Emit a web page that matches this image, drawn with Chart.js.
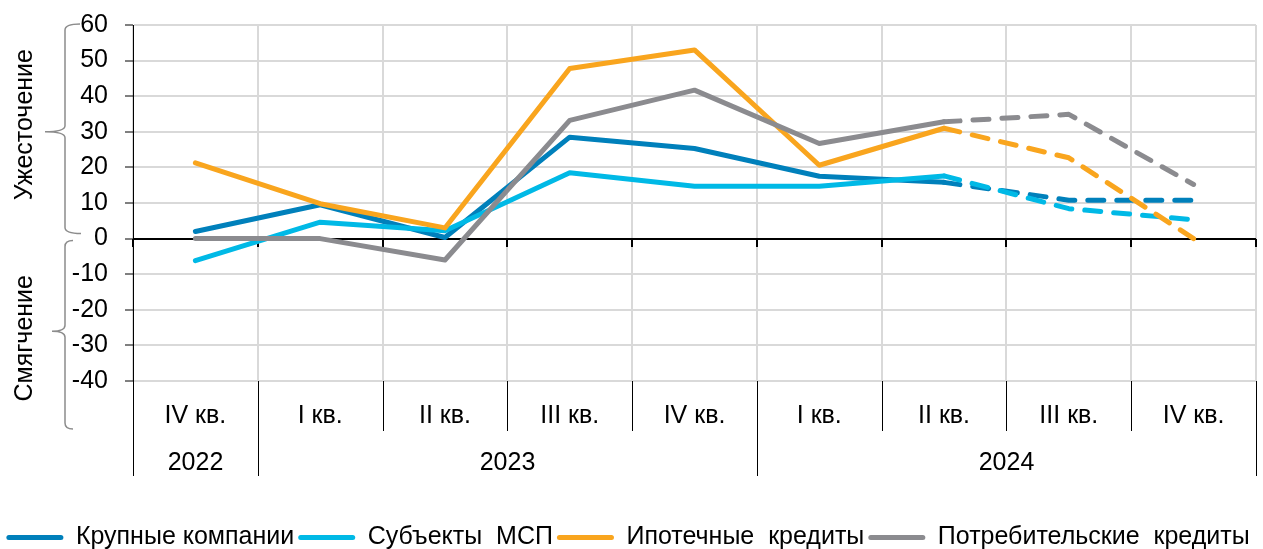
<!DOCTYPE html>
<html><head><meta charset="utf-8">
<script src="https://cdn.jsdelivr.net/npm/chart.js@4"></script>
<style>html,body{margin:0;padding:0;background:#fff;} #wrap{width:1263px;height:549px;position:relative;}</style>
</head><body><div id="wrap"><canvas id="c"></canvas></div>
<script>
// ---- data ----
const quarters = ['IV кв.','I кв.','II кв.','III кв.','IV кв.','I кв.','II кв.','III кв.','IV кв.'];
const years = ['2022','2023','2024'];
const yearSpans = [1, 4, 4];
const largeCompanies = [2, 9.5, 0.3, 28.5, 25.3, 17.5, 15.8, 10.8, 10.8];
const smeSubjects    = [-6.2, 4.6, 2.2, 18.5, 14.7, 14.7, 17.6, 8.4, 5.3];
const mortgageLoans  = [21.3, 9.8, 3.0, 47.8, 53.0, 20.6, 31.0, 22.7, 0];
const consumerLoans  = [0, 0, -6, 33.2, 41.7, 26.7, 32.8, 34.9, 15.2];
const seriesNames = ['Крупные компании', 'Субъекты  МСП', 'Ипотечные  кредиты', 'Потребительские  кредиты'];
const seriesColors = ['#0080BB', '#00B9E6', '#F9A51E', '#8B8B8F'];
const forecastFrom = 6; // index of last actual point (II кв. 2024)
const yMin = -40, yMax = 60, yStep = 10;
const axisTitles = ['Ужесточение', 'Смягчение'];

const FONT = "'Liberation Sans', Arial, sans-serif";

function mkSet(name, data, color, order) {
  return {
    label: name, data: data, borderColor: color, backgroundColor: color,
    borderWidth: 5, pointRadius: 0, tension: 0, order: order,
    borderCapStyle: 'round', borderJoinStyle: 'round',
    segment: { borderDash: ctx => ctx.p0DataIndex >= forecastFrom ? [16, 13] : undefined }
  };
}

const decor = {
  id: 'decor',
  beforeDatasetsDraw(chart) {
    const { ctx, chartArea: a, scales: { x, y } } = chart;
    const y0 = Math.round(y.getPixelForValue(0));
    const half = (x.getPixelForValue(1) - x.getPixelForValue(0)) / 2;
    ctx.save();
    ctx.strokeStyle = '#000';
    ctx.lineWidth = 2;
    ctx.beginPath(); ctx.moveTo(a.left, y0); ctx.lineTo(a.right, y0); ctx.stroke();
    ctx.beginPath();
    for (let i = 0; i <= quarters.length; i++) {
      const px = Math.round(x.getPixelForValue(i) - half);
      ctx.moveTo(px, y0); ctx.lineTo(px, y0 + 8);
    }
    ctx.stroke();
    ctx.restore();
  },
  afterDraw(chart) {
    const { ctx, chartArea: a, scales: { x, y } } = chart;
    const half = (x.getPixelForValue(1) - x.getPixelForValue(0)) / 2;
    const bnd = i => Math.round(x.getPixelForValue(i) - half);
    const qBot = a.bottom + 50, yBot = a.bottom + 95;
    ctx.save();
    ctx.strokeStyle = '#000'; ctx.lineWidth = 1;
    ctx.beginPath();
    ctx.moveTo(a.left + 0.5, a.bottom); ctx.lineTo(a.left + 0.5, yBot);
    for (let i = 1; i <= quarters.length; i++) {
      const px = bnd(i) + 0.5;
      ctx.moveTo(px, a.bottom); ctx.lineTo(px, qBot);
    }
    let idx = 0;
    ctx.fillStyle = '#000';
    ctx.font = '25px ' + FONT;
    ctx.textAlign = 'center'; ctx.textBaseline = 'middle';
    years.forEach((yr, k) => {
      const s = idx, e = idx + yearSpans[k];
      const px = bnd(e) + 0.5;
      ctx.moveTo(px, qBot); ctx.lineTo(px, yBot);
      ctx.fillText(yr, (bnd(s) + bnd(e)) / 2, qBot + 32);
      idx = e;
    });
    ctx.stroke();

    // braces
    ctx.strokeStyle = '#8C8C8C'; ctx.lineWidth = 1.5;
    function brace(xv, yT, yB, ym, tip, hookT, hookB) {
      const r = 6;
      ctx.beginPath();
      ctx.moveTo(xv + hookT, yT);
      ctx.quadraticCurveTo(xv, yT, xv, yT + r);
      ctx.lineTo(xv, ym - r);
      ctx.quadraticCurveTo(xv, ym, tip, ym);
      ctx.quadraticCurveTo(xv, ym, xv, ym + r);
      ctx.lineTo(xv, yB - r);
      ctx.quadraticCurveTo(xv, yB, xv + hookB, yB);
      ctx.stroke();
    }
    brace(65, y.getPixelForValue(60) - 1, y.getPixelForValue(0) - 5, y.getPixelForValue(30), 45, 15, 16);
    brace(65, y.getPixelForValue(0) + 2, y.getPixelForValue(-53.5), y.getPixelForValue(-26), 52, 8, 8);

    // side titles
    ctx.fillStyle = '#000';
    ctx.font = '25px ' + FONT;
    [[axisTitles[0], 32], [axisTitles[1], -28]].forEach(([t, v]) => {
      ctx.save();
      ctx.translate(25, y.getPixelForValue(v));
      ctx.rotate(-Math.PI / 2);
      ctx.textAlign = 'center'; ctx.textBaseline = 'middle';
      ctx.fillText(t, 0, 0);
      ctx.restore();
    });
    ctx.restore();
  }
};

Chart.defaults.font.family = FONT;
Chart.defaults.color = '#000';

new Chart(document.getElementById('c'), {
  type: 'line',
  data: {
    labels: quarters,
    datasets: [
      mkSet(seriesNames[0], largeCompanies, seriesColors[0], 4),
      mkSet(seriesNames[1], smeSubjects, seriesColors[1], 3),
      mkSet(seriesNames[2], mortgageLoans, seriesColors[2], 2),
      mkSet(seriesNames[3], consumerLoans, seriesColors[3], 1)
    ]
  },
  options: {
    responsive: true, maintainAspectRatio: false, animation: false,
    layout: { padding: { top: 25, right: 7, left: 0, bottom: -11 } },
    plugins: {
      tooltip: { enabled: false },
      legend: {
        position: 'bottom',
        labels: {
          boxWidth: 57, boxHeight: 5, padding: 4,
          font: { size: 25 }, color: '#000',
          useBorderRadius: true, borderRadius: 2.5,
          sort: (a, b) => a.datasetIndex - b.datasetIndex,
          generateLabels(chart) {
            const items = Chart.defaults.plugins.legend.labels.generateLabels(chart);
            items.forEach(it => { it.lineWidth = 0; });
            return items;
          }
        }
      }
    },
    scales: {
      x: {
        offset: true,
        grid: { offset: true, color: '#D9D9D9', lineWidth: 2, drawTicks: false },
        border: { display: false },
        ticks: { font: { size: 25 }, color: '#000', padding: 20, maxRotation: 0, autoSkip: false },
        afterFit(s) { s.height = 140; }
      },
      y: {
        min: yMin, max: yMax,
        grid: { color: '#D9D9D9', lineWidth: 2, tickLength: 8, tickColor: '#000', tickWidth: 1 },
        border: { display: true, color: '#000', width: 1 },
        ticks: { stepSize: yStep, font: { size: 25 }, color: '#000', padding: 17 },
        afterFit(s) { s.width = 133; s.paddingTop = 0; s.paddingBottom = 0; }
      }
    }
  },
  plugins: [decor]
});
</script>
</body></html>
